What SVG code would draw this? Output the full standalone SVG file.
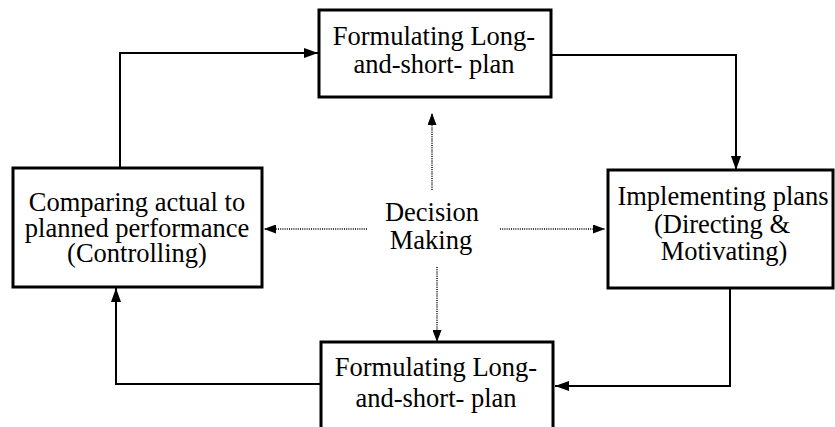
<svg xmlns="http://www.w3.org/2000/svg" width="835" height="427" viewBox="0 0 835 427">
<style>
  .box { fill: #ffffff; stroke: #000000; stroke-width: 3; }
  .lbl { font-family: "Liberation Serif", "Times New Roman", serif; font-size: 26.5px; fill: #000000; text-anchor: middle; }
  .conn { fill: none; stroke: #000000; stroke-width: 2; }
  .dot { fill: none; stroke: #000000; stroke-width: 1.5; stroke-dasharray: 1 1.2; }
</style>
<defs>
  <marker id="ah" markerUnits="userSpaceOnUse" markerWidth="14" markerHeight="10" viewBox="0 0 14 10" refX="14" refY="5" orient="auto">
    <path d="M0,0 L14,5 L0,10 z" fill="#000000"/>
  </marker>
  <marker id="ahd" markerUnits="userSpaceOnUse" markerWidth="12" markerHeight="9" viewBox="0 0 12 9" refX="12" refY="4.5" orient="auto">
    <path d="M0,0 L12,4.5 L0,9 z" fill="#000000"/>
  </marker>
</defs>
<rect width="835" height="427" fill="#ffffff"/>
<g id="connectors">
  <path class="conn" d="M120,168 V53 H318" marker-end="url(#ah)"/>
  <path class="conn" d="M551,55 H736 V170" marker-end="url(#ah)"/>
  <path class="conn" d="M730,288 V386 H555" marker-end="url(#ah)"/>
  <path class="conn" d="M321,384 H116 V288" marker-end="url(#ah)"/>
  <path class="dot" d="M432,190 V113" marker-end="url(#ahd)"/>
  <path class="dot" d="M437,267 V342" marker-end="url(#ahd)"/>
  <path class="dot" d="M367,229 H264" marker-end="url(#ahd)"/>
  <path class="dot" d="M500,229 H605" marker-end="url(#ahd)"/>
</g>
<g id="node-top">
  <rect class="box" x="319" y="10" width="232" height="87"/>
  <text class="lbl" x="434" y="45">Formulating Long-</text>
  <text class="lbl" x="434" y="73">and-short- plan</text>
</g>
<g id="node-left">
  <rect class="box" x="13" y="168" width="249" height="119"/>
  <text class="lbl" x="137" y="211">Comparing actual to</text>
  <text class="lbl" x="137" y="237">planned performance</text>
  <text class="lbl" x="137" y="262">(Controlling)</text>
</g>
<g id="node-right">
  <rect class="box" x="608" y="170" width="225" height="118"/>
  <text class="lbl" x="723" y="205">Implementing plans</text>
  <text class="lbl" x="722" y="233">(Directing &amp;</text>
  <text class="lbl" x="724" y="260">Motivating)</text>
</g>
<g id="node-bottom">
  <rect class="box" x="321" y="342" width="232" height="100"/>
  <text class="lbl" x="436" y="376">Formulating Long-</text>
  <text class="lbl" x="436" y="407">and-short- plan</text>
</g>
<g id="node-center">
  <text class="lbl" x="432" y="221">Decision</text>
  <text class="lbl" x="431" y="249">Making</text>
</g>
</svg>
